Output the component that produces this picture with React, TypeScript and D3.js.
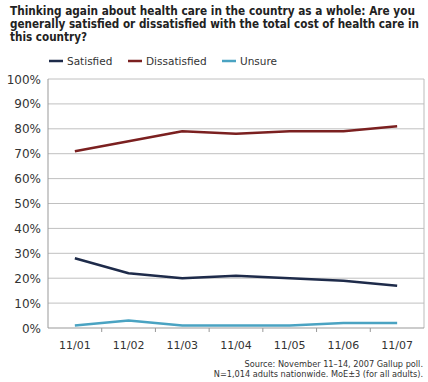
import React from "react";
import * as d3 from "d3";

const categories = ["11/01", "11/02", "11/03", "11/04", "11/05", "11/06", "11/07"];
const satisfied = [28, 22, 20, 21, 20, 19, 17];
const dissatisfied = [71, 75, 79, 78, 79, 79, 81];
const unsure = [1, 3, 1, 1, 1, 2, 2];
const yTicks = [0, 10, 20, 30, 40, 50, 60, 70, 80, 90, 100];
const titleLines = [
  "Thinking again about health care in the country as a whole: Are you",
  "generally satisfied or dissatisfied with the total cost of health care in",
  "this country?",
];
const titleWidths = [405, 409, 77];
const sourceLines = [
  "Source: November 11–14, 2007 Gallup poll.",
  "N=1,014 adults nationwide. MoE±3 (for all adults).",
];
const seriesNames = ["Satisfied", "Dissatisfied", "Unsure"];
const seriesValues = [satisfied, dissatisfied, unsure];
const seriesColors = ["#1e2b4a", "#7b2020", "#4aa3c2"];

export default function App() {
  const W = 428, H = 382;
  const left = 48, right = 424, top = 79, bottom = 328;
  const x = d3.scaleBand<string>().domain(categories).range([left, right]);
  const y = d3.scaleLinear().domain([0, 100]).range([bottom, top]);
  const cx = (c: string) => (x(c) as number) + x.bandwidth() / 2;
  const line = d3
    .line<number>()
    .x((_, i) => cx(categories[i]))
    .y((d) => y(d))
    .curve(d3.curveLinear);
  const font = "'DejaVu Sans', Verdana, sans-serif";
  const legendX = [49, 128, 222];
  return (
    <svg
      width={W}
      height={H}
      style={{ position: "absolute", left: 0, top: 0, background: "#fff" }}
      fontFamily={font}
    >
      <rect x={0} y={0} width={W} height={H} fill="#fff" />
      {titleLines.map((t, i) => (
        <text
          key={i}
          x={10}
          y={15 + i * 13}
          fontSize={11.5}
          fontWeight="bold"
          fill="#222"
          fontFamily="'DejaVu Sans Condensed', 'DejaVu Sans', sans-serif"
          textLength={titleWidths[i]}
          lengthAdjust="spacingAndGlyphs"
        >
          {t}
        </text>
      ))}
      {seriesNames.map((n, i) => (
        <g key={n}>
          <line x1={legendX[i]} x2={legendX[i] + 14} y1={61} y2={61} stroke={seriesColors[i]} strokeWidth={2.5} />
          <text x={legendX[i] + 18} y={65} fontSize={10.5} fill="#333">
            {n}
          </text>
        </g>
      ))}
      {yTicks.map((t) => (
        <g key={t}>
          {t > 0 && (
            <line x1={left} x2={right} y1={y(t)} y2={y(t)} stroke="#c0c0c0" strokeWidth={1} />
          )}
          <text x={41} y={y(t) + 4.5} fontSize={12} textAnchor="end" fill="#333">
            {t}%
          </text>
        </g>
      ))}
      <line x1={left} x2={left} y1={top} y2={bottom} stroke="#999" />
      <line x1={right} x2={right} y1={top} y2={bottom} stroke="#bbb" />
      <line x1={left} x2={right} y1={bottom} y2={bottom} stroke="#999" />
      {categories.slice(1).map((c) => (
        <line key={c} x1={x(c) as number} x2={x(c) as number} y1={bottom} y2={bottom + 4} stroke="#999" />
      ))}
      {categories.map((c) => (
        <text key={c} x={cx(c)} y={349} fontSize={11} textAnchor="middle" fill="#333">
          {c}
        </text>
      ))}
      {seriesValues.map((vals, i) => (
        <path key={i} d={line(vals) || ""} fill="none" stroke={seriesColors[i]} strokeWidth={2.5} strokeLinejoin="round" />
      ))}
      {sourceLines.map((s, i) => (
        <text key={i} x={423} y={367 + i * 10} fontSize={8.2} textAnchor="end" fill="#333">
          {s}
        </text>
      ))}
    </svg>
  );
}
